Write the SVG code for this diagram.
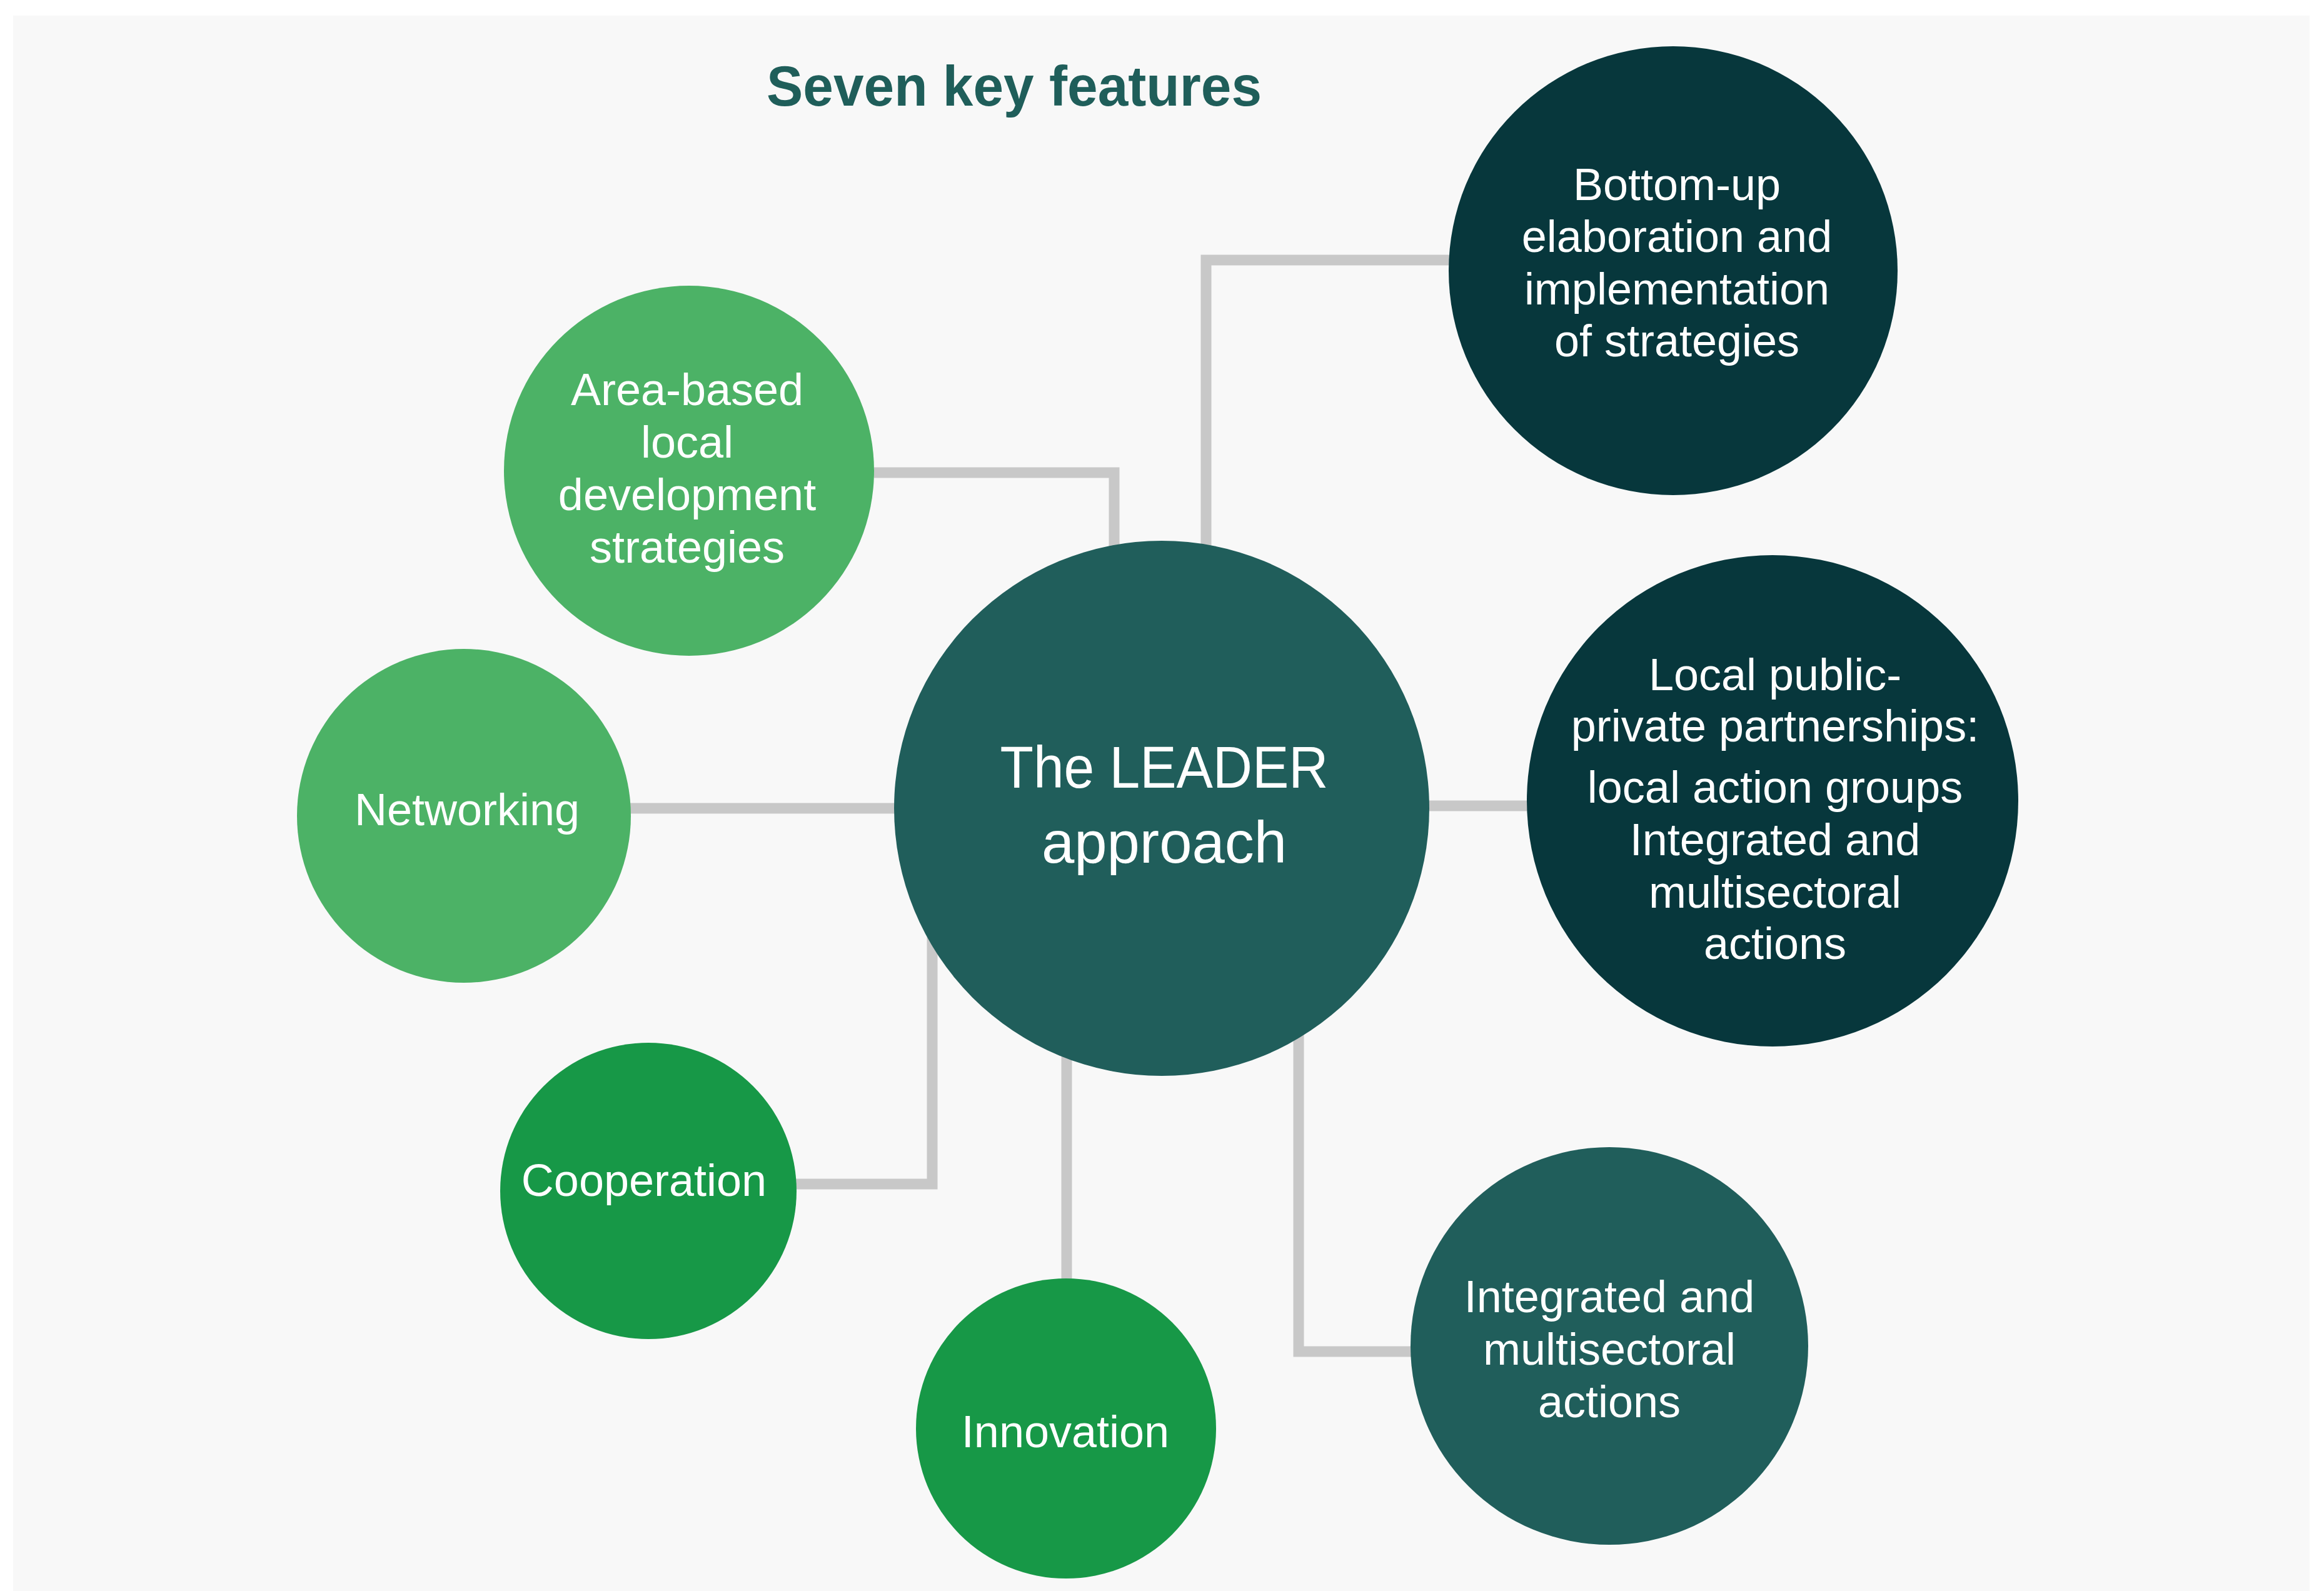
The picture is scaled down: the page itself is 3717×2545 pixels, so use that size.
<svg xmlns="http://www.w3.org/2000/svg" width="3717" height="2545" viewBox="0 0 3717 2545">
<style>
.conn{fill:none;stroke:#c8c8c8;stroke-width:17;stroke-linejoin:miter}
.lbl{font-family:"Liberation Sans",Arial,sans-serif;font-size:72px;fill:#ffffff;text-anchor:middle}
.title{font-family:"Liberation Sans",Arial,sans-serif;font-size:90px;font-weight:bold;fill:#1f5e5a}
.c-main{fill:#205e5b}
.c-dark{fill:#07373c}
.c-light{fill:#4cb266}
.c-mid{fill:#179847}
</style>
<rect x="0" y="0" width="3717" height="2545" fill="#ffffff"/>
<rect x="21" y="25" width="3673" height="2520" fill="#f8f8f8"/>
<text class="title" x="1226" y="169" textLength="792" lengthAdjust="spacingAndGlyphs">Seven key features</text>
<g id="connectors">
<polyline class="conn" points="1398,756 1782,756 1782,900"/>
<polyline class="conn" points="2320,416 1929,416 1929,900"/>
<polyline class="conn" points="1000,1293 1440,1293"/>
<polyline class="conn" points="2280,1289 2450,1289"/>
<polyline class="conn" points="1270,1894 1491,1894 1491,1490"/>
<polyline class="conn" points="1706,1690 1706,2050"/>
<polyline class="conn" points="2077,1640 2077,2162 2262,2162"/>
</g>
<g id="node-center">
<circle class="c-main" cx="1858" cy="1293" r="428"/>
<text class="lbl" style="font-size:94px" x="1862" y="1260" textLength="525" lengthAdjust="spacingAndGlyphs">The LEADER</text>
<text class="lbl" style="font-size:94px" x="1862" y="1380">approach</text>
</g>
<g id="node-bottomup">
<circle class="c-dark" cx="2676" cy="433" r="359"/>
<text class="lbl" x="2682" y="320">Bottom-up</text>
<text class="lbl" x="2682" y="403">elaboration and</text>
<text class="lbl" x="2682" y="487">implementation</text>
<text class="lbl" x="2682" y="570">of strategies</text>
</g>
<g id="node-local">
<circle class="c-dark" cx="2835" cy="1281" r="393"/>
<text class="lbl" x="2839" y="1104">Local public-</text>
<text class="lbl" x="2839" y="1186">private partnerships:</text>
<text class="lbl" x="2839" y="1284">local action groups</text>
<text class="lbl" x="2839" y="1368">Integrated and</text>
<text class="lbl" x="2839" y="1452">multisectoral</text>
<text class="lbl" x="2839" y="1534">actions</text>
</g>
<g id="node-integrated">
<circle class="c-main" cx="2574" cy="2153" r="318"/>
<text class="lbl" x="2574" y="2099">Integrated and</text>
<text class="lbl" x="2574" y="2183">multisectoral</text>
<text class="lbl" x="2574" y="2267">actions</text>
</g>
<g id="node-area">
<circle class="c-light" cx="1102" cy="753" r="296"/>
<text class="lbl" x="1099" y="648">Area-based</text>
<text class="lbl" x="1099" y="732">local</text>
<text class="lbl" x="1099" y="816">development</text>
<text class="lbl" x="1099" y="900">strategies</text>
</g>
<g id="node-networking">
<circle class="c-light" cx="742" cy="1305" r="267"/>
<text class="lbl" x="747" y="1320">Networking</text>
</g>
<g id="node-cooperation">
<circle class="c-mid" cx="1037" cy="1905" r="237"/>
<text class="lbl" x="1030" y="1913">Cooperation</text>
</g>
<g id="node-innovation">
<circle class="c-mid" cx="1705" cy="2285" r="240"/>
<text class="lbl" x="1704" y="2315">Innovation</text>
</g>
</svg>
